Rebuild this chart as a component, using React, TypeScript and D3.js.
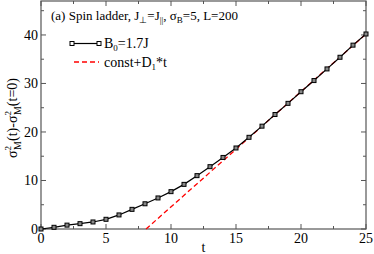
import React from "react";
import * as d3 from "d3";

// sigma^2_M(t) - sigma^2_M(0) for B0 = 1.7J
const times = d3.range(0, 26);
const variance = [
  0, 0.35, 0.8, 1.1, 1.45, 2.0, 2.9, 4.05, 5.2, 6.4, 7.7, 9.2, 11.0, 12.85,
  14.75, 16.7, 18.9, 21.2, 23.6, 25.9, 28.3, 30.6, 33.0, 35.4, 37.9, 40.2,
];
// linear fit const + D1*t
const fitConst = -19.2;
const fitSlope = 2.376;
const fitRange = [8.08, 25];

const xTicks = [0, 5, 10, 15, 20, 25];
const yTicks = [0, 10, 20, 30, 40];

const W = 374;
const H = 254;
const margin = { top: 1, right: 8, bottom: 25, left: 41 };
const axisColor = "#555";
const serif = { fontFamily: '"Liberation Serif"' };

export default function App() {
  const x = d3
    .scaleLinear()
    .domain([0, 25])
    .range([margin.left, W - margin.right]);
  const y = d3
    .scaleLinear()
    .domain([0, 47])
    .range([H - margin.bottom, margin.top]);

  const line = d3
    .line<number>()
    .x((_, i) => x(times[i]))
    .y((d) => y(d));

  const fitLine = d3
    .line<number>()
    .x((t) => x(t))
    .y((t) => y(fitConst + fitSlope * t));

  const x0 = x(0);
  const x1 = x(25);
  const y0 = y(0);
  const y1 = y(47);

  const xMinor = d3.range(2.5, 25, 5);
  const yMinor = d3.range(5, 47, 10);

  return (
    <svg
      width={W}
      height={H}
      style={{ position: "absolute", left: 0, top: 0 }}
    >
      <rect x={0} y={0} width={W} height={H} fill="#fff" />

      {/* ticks, inward on all four sides */}
      {xTicks.map((t) => (
        <g key={"xt" + t} stroke={axisColor}>
          <line x1={x(t)} x2={x(t)} y1={y0} y2={y0 - 5} />
          <line x1={x(t)} x2={x(t)} y1={y1} y2={y1 + 5} />
        </g>
      ))}
      {xMinor.map((t) => (
        <g key={"xm" + t} stroke={axisColor}>
          <line x1={x(t)} x2={x(t)} y1={y0} y2={y0 - 3} />
          <line x1={x(t)} x2={x(t)} y1={y1} y2={y1 + 3} />
        </g>
      ))}
      {yTicks.map((v) => (
        <g key={"yt" + v} stroke={axisColor}>
          <line x1={x0} x2={x0 + 5} y1={y(v)} y2={y(v)} />
          <line x1={x1} x2={x1 - 5} y1={y(v)} y2={y(v)} />
        </g>
      ))}
      {yMinor.map((v) => (
        <g key={"ym" + v} stroke={axisColor}>
          <line x1={x0} x2={x0 + 3} y1={y(v)} y2={y(v)} />
          <line x1={x1} x2={x1 - 3} y1={y(v)} y2={y(v)} />
        </g>
      ))}
      <rect
        x={x0}
        y={y1}
        width={x1 - x0}
        height={y0 - y1}
        fill="none"
        stroke={axisColor}
        strokeWidth={1.2}
      />

      {/* tick labels */}
      {xTicks.map((t) => (
        <text key={"xl" + t} x={x(t)} y={y0 + 14} fontSize={14} textAnchor="middle" style={serif}>
          {t}
        </text>
      ))}
      {yTicks.map((v) => (
        <text key={"yl" + v} x={x0 - 3} y={y(v) + 5} fontSize={14} textAnchor="end" style={serif}>
          {v}
        </text>
      ))}

      {/* axis titles */}
      <text x={(x0 + x1) / 2} y={H - 2} fontSize={14} textAnchor="middle" style={serif}>
        t
      </text>
      <text
        transform={`translate(17,${(y0 + y1) / 2 + 3}) rotate(-90)`}
        fontSize={14}
        textAnchor="middle"
        style={serif}
      >
        σ
        <tspan dy={-6} fontSize={9}>2</tspan>
        <tspan dx={-4} dy={10} fontSize={10}>M</tspan>
        <tspan dy={-4}>(t)-σ</tspan>
        <tspan dy={-6} fontSize={9}>2</tspan>
        <tspan dx={-4} dy={10} fontSize={10}>M</tspan>
        <tspan dy={-4}>(t=0)</tspan>
      </text>

      {/* title */}
      <text x={51} y={20} fontSize={13} style={serif}>
        (a) Spin ladder, J<tspan dy={3} fontSize={9}>⊥</tspan>
        <tspan dy={-3}>=J</tspan>
        <tspan dy={3} fontSize={9}>||</tspan>
        <tspan dy={-3}>, σ</tspan>
        <tspan dy={3} fontSize={9}>B</tspan>
        <tspan dy={-3}>=5, L=200</tspan>
      </text>

      {/* legend text */}
      <text x={104} y={48} fontSize={14} style={serif}>
        B<tspan dy={3} fontSize={9}>0</tspan>
        <tspan dy={-3}>=1.7J</tspan>
      </text>
      <text x={104} y={67} fontSize={14} style={serif}>
        const+D<tspan dy={3} fontSize={9}>1</tspan>
        <tspan dy={-3}>*t</tspan>
      </text>

      {/* data */}
      <path
        d={fitLine(fitRange) ?? ""}
        fill="none"
        stroke="#ff0000"
        strokeWidth={1.3}
        strokeDasharray="5,3"
      />
      <path d={line(variance) ?? ""} fill="none" stroke="#000" strokeWidth={1.2} />
      {variance.map((v, i) => (
        <rect
          key={"p" + i}
          x={x(times[i]) - 2}
          y={y(v) - 2}
          width={4}
          height={4}
          fill="#888"
          stroke="#000"
          strokeWidth={1}
        />
      ))}

      {/* legend marks */}
      <line x1={72} x2={99} y1={43.5} y2={43.5} stroke="#000" strokeWidth={1.2} />
      {[72, 99].map((lx) => (
        <rect
          key={"lg" + lx}
          x={lx - 2}
          y={41.5}
          width={4}
          height={4}
          fill="#fff"
          stroke="#000"
        />
      ))}
      <line
        x1={74}
        x2={99}
        y1={62}
        y2={62}
        stroke="#ff0000"
        strokeWidth={1.3}
        strokeDasharray="5,3"
      />
    </svg>
  );
}
